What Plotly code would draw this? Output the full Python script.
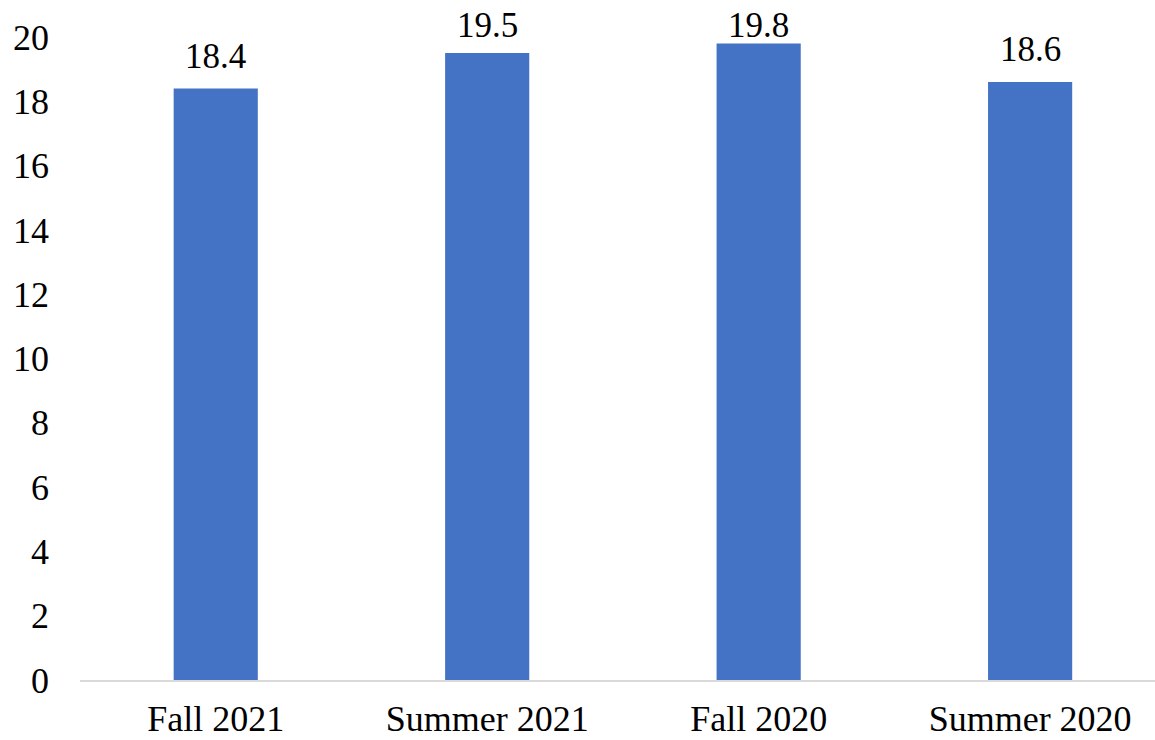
import plotly.graph_objects as go

categories = ["Fall 2021", "Summer 2021", "Fall 2020", "Summer 2020"]
values = [18.4, 19.5, 19.8, 18.6]
value_labels = ["18.4", "19.5", "19.8", "18.6"]
y_ticks = list(range(0, 21, 2))
Y_MAX = 20

FONT = "Liberation Serif, Times New Roman, serif"

fig = go.Figure(go.Bar(
    x=categories, y=values,
    marker=dict(color="#4472C4", line=dict(width=0)),
    width=0.31,
))

# labels sit ~1 unit above the bar, but are kept inside the chart area
LABEL_OFFSET = 1.0
LABEL_CAP = 20.37
for c, v, t in zip(categories, values, value_labels):
    fig.add_annotation(x=c, y=min(v + LABEL_OFFSET, LABEL_CAP) / Y_MAX, yref="paper",
                       text=t, showarrow=False,
                       yanchor="middle", font=dict(family=FONT, size=35, color="black"))

fig.update_layout(
    width=1155, height=740,
    margin=dict(l=80, r=0, t=37, b=60),
    paper_bgcolor="white", plot_bgcolor="white",
    showlegend=False,
    font=dict(family=FONT, size=36, color="black"),
)
fig.update_yaxes(range=[0, Y_MAX], tickvals=y_ticks, showgrid=False, zeroline=False,
                 showline=False, ticklabelstandoff=30, automargin=False)
fig.update_xaxes(range=[-0.5, 3.46], showline=True, linecolor="#d9d9d9", linewidth=2, ticks="",
                 ticklabelstandoff=6, automargin=False)

fig.write_html("out.html")
